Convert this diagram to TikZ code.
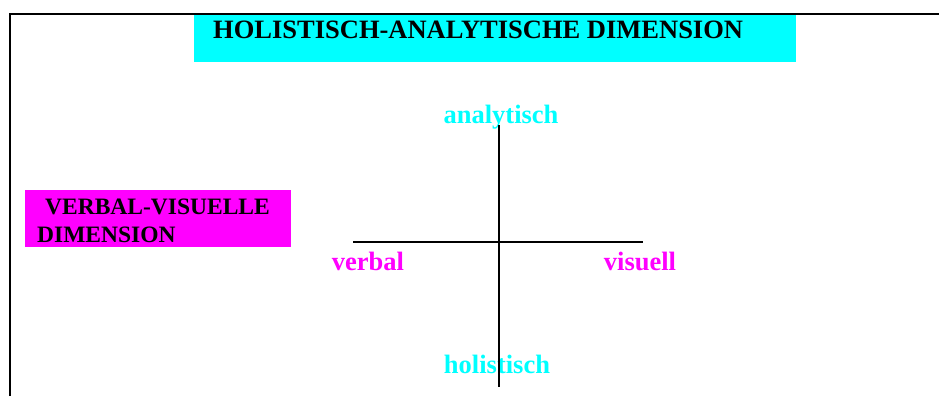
\documentclass[tikz,border=0pt]{standalone}
\usepackage{fontspec}
\setmainfont{Liberation Serif}
\usetikzlibrary{positioning}
\definecolor{dimcyan}{RGB}{0,255,255}
\definecolor{dimmagenta}{RGB}{255,0,255}

\begin{document}
\begin{tikzpicture}[x=1pt, y=-1pt,
        frame/.style={line width=2pt, draw=black},
        axis/.style={line width=1.6pt, draw=black},
        banner/.style={inner sep=0pt, anchor=north west},
        bigtext/.style={font=\fontsize{26.5}{30}\selectfont\bfseries, inner sep=0pt},
        boxtext/.style={font=\fontsize{23.5}{28}\selectfont\bfseries, inner sep=0pt, anchor=base west},
        pole/.style={bigtext, anchor=base}
    ]
    \useasboundingbox (0,0) rectangle (939,396);

    % coloured banners
    \node[banner, fill=dimcyan, minimum width=602pt, minimum height=48pt] (hdrbox) at (194,14) {};
    \node[bigtext, anchor=base west] (hdrtext) at (213,38) {HOLISTISCH-ANALYTISCHE DIMENSION};

    \node[banner, fill=dimmagenta, minimum width=266pt, minimum height=57pt] (vvbox) at (25,190) {};
    \node[boxtext] (vvline1) at (45,214) {VERBAL-VISUELLE};
    \node[boxtext] (vvline2) at (37,242) {DIMENSION};

    \draw[frame] (10,396) -- (10,14) -- (939,14);

    % poles of the two dimensions
    \node[pole, text=dimcyan] (analytisch) at (501,123) {analytisch};
    \node[pole, text=dimcyan] (holistisch) at (497,373) {holistisch};
    \node[pole, text=dimmagenta] (verbal) at (368,270) {verbal};
    \node[pole, text=dimmagenta] (visuell) at (640,270) {visuell};

    % axes
    \coordinate (top) at (499,125);
    \coordinate (bottom) at (499,387);
    \coordinate (left) at (353,242);
    \coordinate (right) at (643,242);
    \draw[axis] (top) -- (bottom);
    \draw[axis] (left) -- (right);
\end{tikzpicture}
\end{document}
